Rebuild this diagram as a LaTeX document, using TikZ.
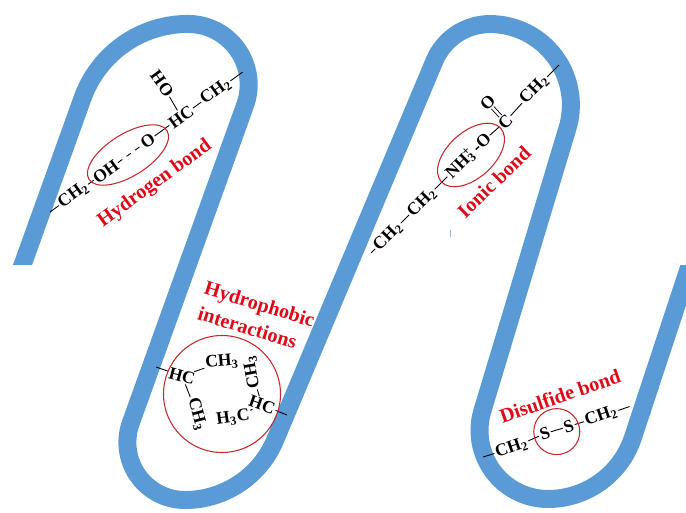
\documentclass[tikz,border=0pt]{standalone}
\usepackage{fontspec}
\setmainfont{Liberation Serif}
\definecolor{ribbonblue}{RGB}{91,155,213}
\definecolor{lblred}{RGB}{222,10,24}
\definecolor{ringred}{RGB}{196,40,44}
\begin{document}
\begin{tikzpicture}[x=0.02cm,y=-0.02cm,
  ribbon/.style={line width=0.36cm, draw=ribbonblue, line join=round},
  chem/.style={font=\bfseries\fontsize{10}{12}\selectfont, inner sep=0.6pt},
  bond/.style={line width=0.5pt},
  lbl/.style={font=\bfseries\fontsize{11.5}{13}\selectfont, text=lblred, inner sep=0pt},
  ring/.style={draw=ringred, line width=0.6pt}]
\useasboundingbox (0,0) rectangle (686,513);

% folded backbone ribbon: straight strands joined by two-radius turns,
% cut square at both free ends
\begin{scope}
  \clip (0,0) -- (640,0) -- (640,265) -- (686,265) -- (686,513) -- (70,513)
        -- (70,265) -- (0,265) -- cycle;
  \draw[ribbon] (11.7,295) -- (82.6,98)
    arc[start angle=199.8, end angle=270, radius=112]
    arc[start angle=270, end angle=379.8, radius=60.7]
    -- (130.8,422.9)
    arc[start angle=199.8, end angle=90, radius=57.6]
    arc[start angle=90, end angle=22.8, radius=97.8]
    -- (434.4,61)
    arc[start angle=202.8, end angle=270, radius=60.3]
    arc[start angle=270, end angle=376.7, radius=80.9]
    -- (482.4,410.8)
    arc[start angle=196.7, end angle=90, radius=68.5]
    arc[start angle=90, end angle=18.3, radius=89.4]
    -- (701.4,230);
\end{scope}
\draw[ribbonblue!70, line width=0.5pt] (450,230) -- (450,237);

% hydrogen bond
\begin{scope}[shift={(50,212)}, rotate=36, transform shape]
  \coordinate (h0) at (0,0);
  \node[chem] (h1) at (29,0) {CH\textsubscript{2}};
  \node[chem] (h2) at (69,0) {OH};
  \node[chem] (h3) at (121,0) {O};
  \node[chem] (h4) at (162,0) {HC};
  \node[chem] (h5) at (205,0) {CH\textsubscript{2}};
  \coordinate (h6) at (238,0);
  \node[chem, rotate=-90] (h7) at (166,-38) {HO};
\end{scope}
\draw[bond] (h0) -- (h1);
\draw[bond] (h1) -- (h2);
\draw[bond, dash pattern=on 3pt off 3pt] (h2) -- (h3);
\draw[bond] (h3) -- (h4);
\draw[bond] (h4) -- (h5);
\draw[bond] (h5) -- (h6);
\draw[bond] (h4) -- (h7);
\draw[ring, rotate around={32:(128,155)}] (128,155) ellipse [x radius=46, y radius=21];
\node[lbl, rotate=36] (hlbl) at (155,184) {Hydrogen bond};

% ionic bond
\begin{scope}[shift={(371,253)}, rotate=45, transform shape]
  \coordinate (i0) at (0,0);
  \node[chem] (i1) at (24,0) {CH\textsubscript{2}};
  \node[chem] (i2) at (72,0) {CH\textsubscript{2}};
  \node[chem] (i3) at (126,0) {NH\rlap{\textsuperscript{+}}\textsubscript{3}};
  \node[chem] (i4) at (156,0) {-O};
  \node[chem] (i5) at (188,2) {C};
  \node[chem] (i6) at (189,-24) {O};
  \node[chem] (i7) at (231,0) {CH\textsubscript{2}};
  \coordinate (i8) at (266,0);
\end{scope}
\draw[bond] (i0) -- (i1);
\draw[bond] (i1) -- (i2);
\draw[bond] (i2) -- (i3);
\draw[bond] (i4) -- (i5);
\draw[bond, double, double distance=1.4pt] (i5) -- (i6);
\draw[bond] (i5) -- (i7);
\draw[bond] (i7) -- (i8);
\draw[ring, rotate around={42:(471,155)}] (471,155) ellipse [x radius=40, y radius=23];
\node[lbl, rotate=44] (ilbl) at (494,182) {Ionic bond};

% hydrophobic interactions
\coordinate (p0) at (156,367);
\node[chem, rotate=-15] (p1) at (182,376) {HC};
\node[chem, rotate=5] (p2) at (222,362) {CH\textsubscript{3}};
\node[chem, rotate=-75] (p3) at (197,414) {CH\textsubscript{3}};
\node[chem, rotate=-20] (p4) at (262,405) {HC};
\coordinate (p5) at (287,415);
\node[chem, rotate=8] (p6) at (233,418) {H\textsubscript{3}C};
\node[chem, rotate=100] (p7) at (252,372) {CH\textsubscript{3}};
\draw[bond] (p0) -- (p1);
\draw[bond] (p1) -- (p2);
\draw[bond] (p1) -- (p3);
\draw[bond] (p4) -- (p5);
\draw[bond] (p6) -- (p4);
\draw[bond] (p4) -- (p7);
\draw[ring] (222,394) circle [radius=58.5];
\node[lbl, rotate=-17] (plbl1) at (259,306) {Hydrophobic};
\node[lbl, rotate=-17] (plbl2) at (247.5,327.5) {interactions};

% disulfide bond
\begin{scope}[shift={(483,457)}, rotate=19, transform shape]
  \coordinate (s0) at (0,0);
  \node[chem] (s1) at (30,1) {CH\textsubscript{2}};
  \node[chem] (s2) at (66,-2) {S};
  \node[chem] (s3) at (91,-1) {S};
  \node[chem] (s4) at (125,0) {CH\textsubscript{2}};
  \coordinate (s5) at (155,0);
  \coordinate (sc) at (78,0);
\end{scope}
\draw[bond] (s0) -- (s1);
\draw[bond] (s1) -- (s2);
\draw[bond] (s2) -- (s3);
\draw[bond] (s3) -- (s4);
\draw[bond] (s4) -- (s5);
\draw[ring] (sc) circle [radius=23];
\node[lbl, rotate=19] (slbl) at (560,396) {Disulfide bond};
\end{tikzpicture}
\end{document}
